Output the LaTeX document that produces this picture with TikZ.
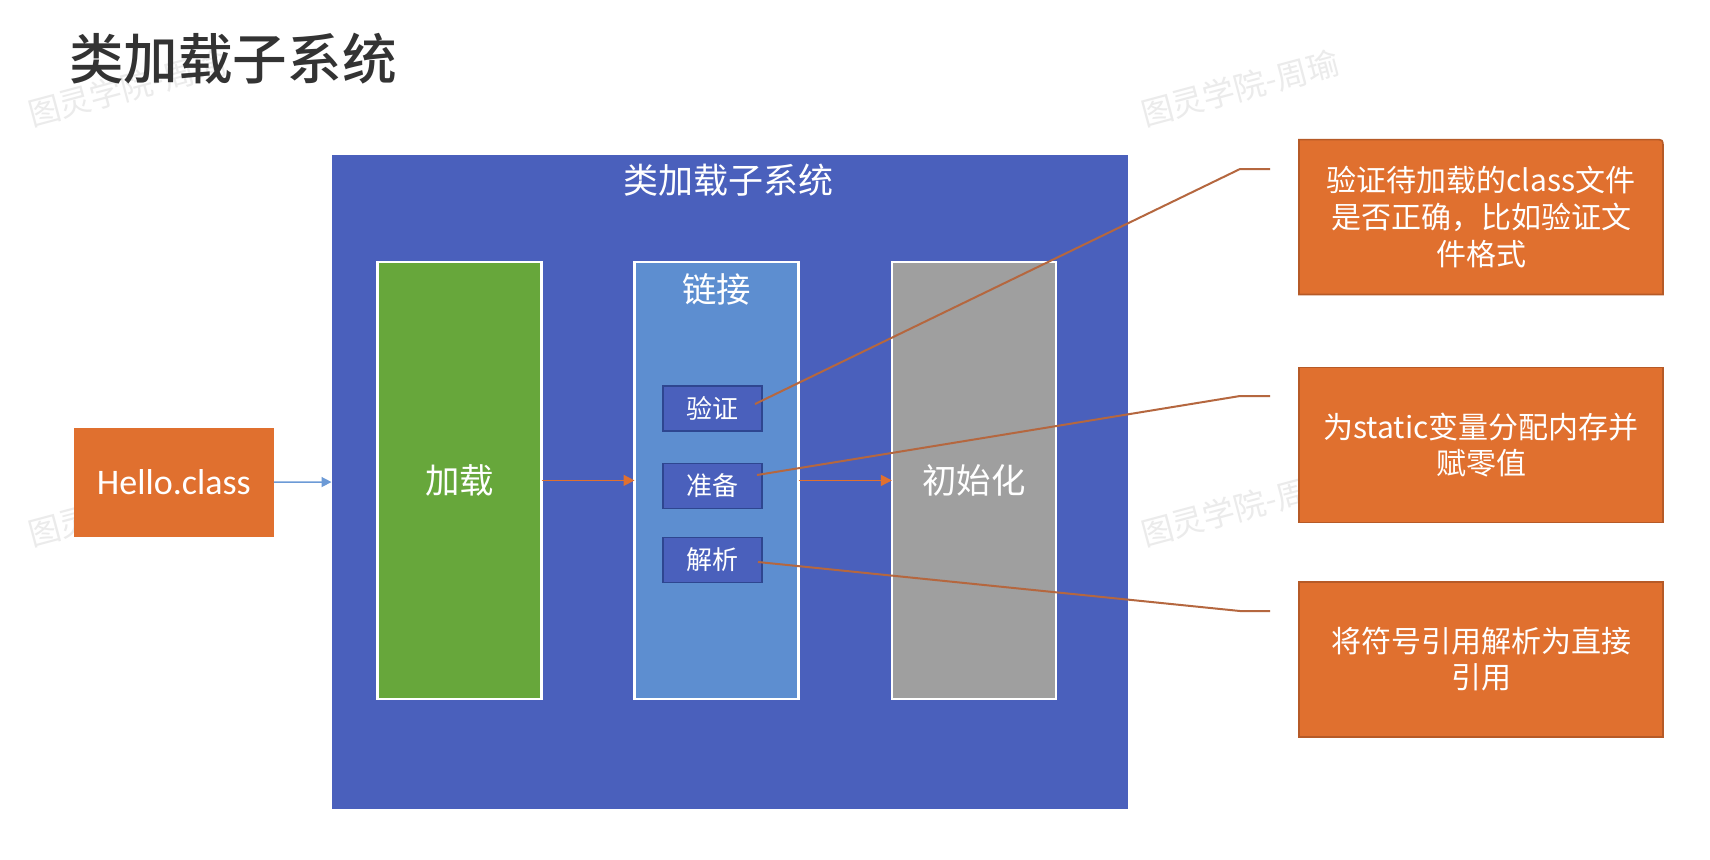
\documentclass[tikz,border=0pt]{standalone}
\usepackage{fontspec}
\newfontfamily\cjkf{Noto Sans CJK SC}
\newfontfamily\cjkm{Noto Sans CJK SC Medium}
\newfontfamily\carl{Carlito}
\usetikzlibrary{arrows.meta}
\definecolor{mainblue}{HTML}{4A60BC}
\definecolor{loadgreen}{HTML}{67A73B}
\definecolor{linkblue}{HTML}{5D8ED0}
\definecolor{initgray}{HTML}{9F9F9F}
\definecolor{noteorange}{HTML}{E0702F}
\definecolor{noteborder}{HTML}{B65A27}
\definecolor{subborder}{HTML}{2E4690}
\definecolor{calloutc}{HTML}{B5673F}
\definecolor{arrowblue}{HTML}{6C9AD6}
\definecolor{titlegray}{HTML}{333333}
\definecolor{wmgray}{HTML}{EBEBEB}
\begin{document}
\begin{tikzpicture}[x=0.5pt,y=-0.5pt,
  every node/.style={inner sep=0pt, outer sep=0pt},
  wm/.style={text=wmgray, font=\cjkf\fontsize{16}{16}\selectfont, rotate=15},
  sysbox/.style={fill=mainblue, minimum width=398.1pt, minimum height=327.1pt},
  stage/.style={draw=white, line width=1.3pt, minimum width=82pt, minimum height=218.6pt,
    text=white, font=\cjkf\fontsize{17.2}{20}\selectfont},
  stagelbl/.style={text=white, font=\cjkf\fontsize{17.2}{20}\selectfont},
  subbox/.style={fill=mainblue, draw=subborder, line width=0.7pt, minimum width=49.5pt,
    minimum height=22.5pt, text=white, font=\cjkf\fontsize{13}{15}\selectfont},
  note/.style={fill=noteorange, draw=noteborder, line width=0.8pt, minimum width=182pt,
    minimum height=77.5pt, text=white, align=center, font=\cjkf\fontsize{15}{18.3}\selectfont},
  oarrow/.style={draw=noteorange, line width=0.75pt, -{Triangle[length=5.5pt,width=5.5pt]}},
  barrow/.style={draw=arrowblue, line width=0.75pt, -{Triangle[length=5pt,width=5pt]}},
  callout/.style={draw=calloutc, line width=1pt}
]
\useasboundingbox (0,0) rectangle (1710,859);
\fill[white] (0,0) rectangle (1710,859);

% watermarks
\node[wm] (wm1) at (127,88) {图灵学院-周瑜};
\node[wm] (wm2) at (1240,88) {图灵学院-周瑜};
\node[wm] (wm3) at (127,508) {图灵学院-周瑜};
\node[wm] (wm4) at (1240,508) {图灵学院-周瑜};

% title
\node[anchor=west, text=titlegray, font=\cjkm\fontsize{27.3}{30}\selectfont] (title) at (69,59) {类加载子系统};

% Hello.class
\node[fill=noteorange, minimum width=99.85pt, minimum height=54.5pt, text=white,
  font=\carl\fontsize{18}{20}\selectfont] (hello) at (173.9,482) {Hello.class};

% subsystem
\node[sysbox] (sys) at (729.6,482.1) {};
\node[stagelbl, font=\cjkf\fontsize{17.5}{20}\selectfont] (systitle) at (728.5,180) {类加载子系统};

\node[stage, fill=loadgreen] (load) at (459.7,480.4) {加载};
\node[stage, fill=linkblue] (link) at (716.5,480.4) {};
\node[stagelbl] (linktxt) at (716.5,289) {链接};
\node[stage, fill=initgray] (init) at (973.9,480.4) {初始化};

\node[subbox] (verify) at (712.5,408.5) {验证};
\node[subbox] (prepare) at (712.5,485.7) {准备};
\node[subbox] (resolve) at (712.5,560) {解析};

% arrows
\draw[barrow] (hello) -- (sys);
\draw[oarrow] (load) -- (link);
\draw[oarrow] (link) -- (init);

% notes
\filldraw[fill=noteorange, draw=noteborder, line width=0.8pt]
  (1299,294.5) -- (1299,139.6) -- (1655,139.6) .. controls (1663,139.6) .. (1663,147.6) -- (1663,294.5) -- cycle;
\node[note, fill=none, draw=none] (n1) at (1481,217) {验证待加载的class文件\\是否正确，比如验证文\\件格式};
\node[note] (n2) at (1481,445) {为static变量分配内存并\\赋零值};
\node[note] (n3) at (1481,659.3) {将符号引用解析为直接\\引用};

% callouts
\coordinate (s1) at (755,404);
\coordinate (k1) at (1240,169);
\coordinate (e1) at (1270,169);
\coordinate (s2) at (757,475);
\coordinate (k2) at (1240,396);
\coordinate (e2) at (1270,396);
\coordinate (s3) at (758,562);
\coordinate (k3) at (1240,611);
\coordinate (e3) at (1270,611);
\draw[callout] (s1) -- (k1) -- (e1);
\draw[callout] (s2) -- (k2) -- (e2);
\draw[callout] (s3) -- (k3) -- (e3);
\end{tikzpicture}
\end{document}
